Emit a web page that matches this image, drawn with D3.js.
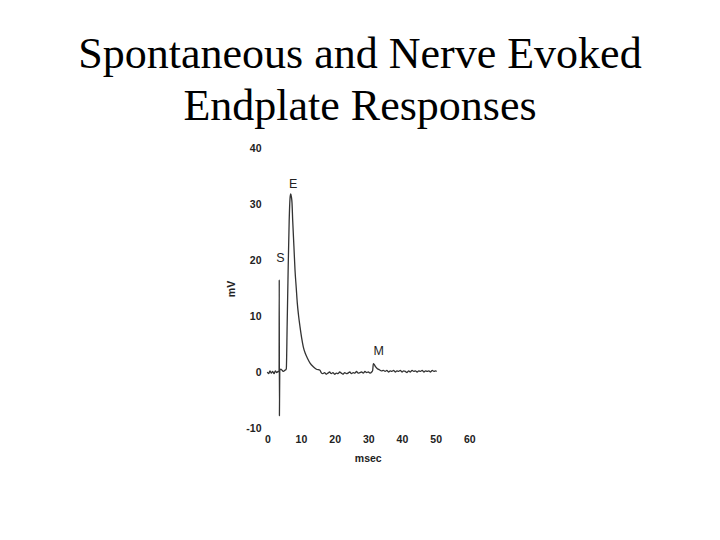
<!DOCTYPE html>
<html>
<head>
<meta charset="utf-8">
<script src="https://cdn.jsdelivr.net/npm/d3@7"></script>
<style>
  html, body { margin: 0; padding: 0; background: #fff; }
  svg { display: block; }
</style>
</head>
<body>
<script>
// ---- Data ----
const titleLines = ["Spontaneous and Nerve Evoked", "Endplate Responses"];
const xTicks = [0, 10, 20, 30, 40, 50, 60];
const yTicks = [40, 30, 20, 10, 0, -10];
const xLabel = "msec";
const yLabel = "mV";

// Recording trace: time (msec) and potential (mV)
const timeMs = [
  0.0, 0.4, 0.8, 1.2, 1.6, 2.0, 2.4, 2.8, 3.2, 3.5,
  3.55, 3.6, 3.7, 4.0, 4.4, 4.8, 5.2, 5.5,
  5.65, 5.9, 6.2, 6.5, 6.75, 6.95, 7.15, 7.34, 7.54, 7.9, 8.23, 8.6, 8.91, 9.3, 9.71, 10.2, 10.69, 11.3, 11.88, 12.7, 13.66, 14.6, 15.65,
  16.0, 16.5, 17.0, 17.5, 18.0, 18.5, 19.0, 19.5, 20.0, 20.5, 21.0, 21.5, 22.0, 22.5, 23.0, 23.5, 24.0, 24.5, 25.0, 25.5,
  26.0, 26.5, 27.0, 27.5, 28.0, 28.5, 29.0, 29.5, 30.0, 30.5, 31.0,
  31.3, 31.5, 31.8, 32.2, 32.7, 33.3, 33.9, 34.5, 35.0, 35.5, 36.0, 36.5, 37.0, 37.5, 38.0, 38.5,
  39.0, 39.5, 40.0, 40.5, 41.0, 41.5, 42.0, 42.5, 43.0, 43.5, 44.0, 44.5, 45.0, 45.5, 46.0, 46.5,
  47.0, 47.5, 48.0, 48.5, 49.0, 49.5, 50.0, 50.3
];
const potentialMv = [
  0.0, -0.3, 0.2, -0.2, 0.1, -0.3, 0.2, -0.1, 0.1, 0.0,
  16.5, -7.8, 0.2, 0.5, 0.3, 0.1, 0.3, 0.4,
  0.6, 8.5, 18.5, 27.0, 31.0, 31.8, 31.3, 30.2, 27.1, 22.5, 18.2, 15.0, 12.3, 10.0, 8.1, 6.1, 4.5, 3.3, 2.5, 1.6, 0.95, 0.5, 0.3,
  -0.1, -0.3, -0.1, -0.4, -0.2, 0.0, -0.3, -0.1, -0.4, -0.2, -0.3, 0.0, -0.2, -0.4, -0.1, -0.3, -0.2, 0.0, -0.3, -0.1,
  -0.2, 0.1, -0.2, -0.1, 0.0, -0.2, 0.1, -0.1, 0.0, -0.2, 0.0,
  0.3, 1.5, 1.3, 0.9, 0.6, 0.4, 0.2, 0.3, 0.1, 0.3, 0.0, 0.2, 0.1, 0.3, 0.0, 0.2,
  0.1, 0.3, 0.0, 0.2, 0.1, -0.1, 0.2, 0.0, 0.3, 0.1, 0.2, 0.0, 0.2, 0.1, 0.3, 0.0,
  0.2, 0.1, 0.2, 0.0, 0.3, 0.1, 0.2, 0.1
];
const annotations = [
  { label: "E", t: 7.7, v: 32.8 },
  { label: "S", t: 3.9, v: 19.6 },
  { label: "M", t: 33.1, v: 3.0 }
];

// ---- Layout ----
const W = 720, H = 540;
const svg = d3.select("body").append("svg").attr("width", W).attr("height", H);

// Title
svg.append("g").selectAll("text").data(titleLines).join("text")
  .attr("x", 360)
  .attr("y", (d, i) => 68 + i * 52)
  .attr("text-anchor", "middle")
  .attr("font-family", "'Liberation Serif', 'Times New Roman', serif")
  .attr("font-size", 44)
  .attr("fill", "#000")
  .text(d => d);

const x = d3.scaleLinear().domain([0, 60]).range([267.3, 469.3]);
const y = d3.scaleLinear().domain([-10, 40]).range([428, 148]);

const sans = "'Liberation Sans', Arial, Helvetica, sans-serif";

// Y axis labels (no axis line)
const yAxis = d3.axisLeft(y).tickValues(yTicks).tickSize(0).tickPadding(0).tickFormat(d => String(d));
const gy = svg.append("g").attr("transform", "translate(261.5,0)").call(yAxis);
gy.select(".domain").remove();
gy.selectAll("text")
  .attr("font-family", sans).attr("font-size", 10.5).attr("font-weight", "bold").attr("fill", "#222");

// X axis labels
const xAxis = d3.axisBottom(x).tickValues(xTicks).tickSize(0).tickPadding(0).tickFormat(d => String(d));
const gx = svg.append("g").attr("transform", "translate(0,435.5)").call(xAxis);
gx.select(".domain").remove();
gx.selectAll("text")
  .attr("font-family", sans).attr("font-size", 10.5).attr("font-weight", "bold").attr("fill", "#222");

// Axis titles
svg.append("text")
  .attr("x", 368.3).attr("y", 461.5)
  .attr("text-anchor", "middle")
  .attr("font-family", sans).attr("font-size", 10.5).attr("font-weight", "bold").attr("fill", "#222")
  .text(xLabel);
svg.append("text")
  .attr("transform", "translate(235,289) rotate(-90)")
  .attr("text-anchor", "middle")
  .attr("font-family", sans).attr("font-size", 10.5).attr("font-weight", "bold").attr("fill", "#222")
  .text(yLabel);

// Trace
const pts = timeMs.map((t, i) => [t, potentialMv[i]]);
const line = d3.line().x(d => x(d[0])).y(d => y(d[1])).curve(d3.curveMonotoneX);
svg.append("path")
  .datum(pts)
  .attr("d", line)
  .attr("fill", "none")
  .attr("stroke", "#333")
  .attr("stroke-width", 1.3)
  .attr("stroke-linejoin", "round");

// Annotations
svg.append("g").selectAll("text").data(annotations).join("text")
  .attr("x", d => x(d.t))
  .attr("y", d => y(d.v))
  .attr("text-anchor", "middle")
  .attr("font-family", sans).attr("font-size", 12.5).attr("fill", "#222")
  .text(d => d.label);
</script>
</body>
</html>
